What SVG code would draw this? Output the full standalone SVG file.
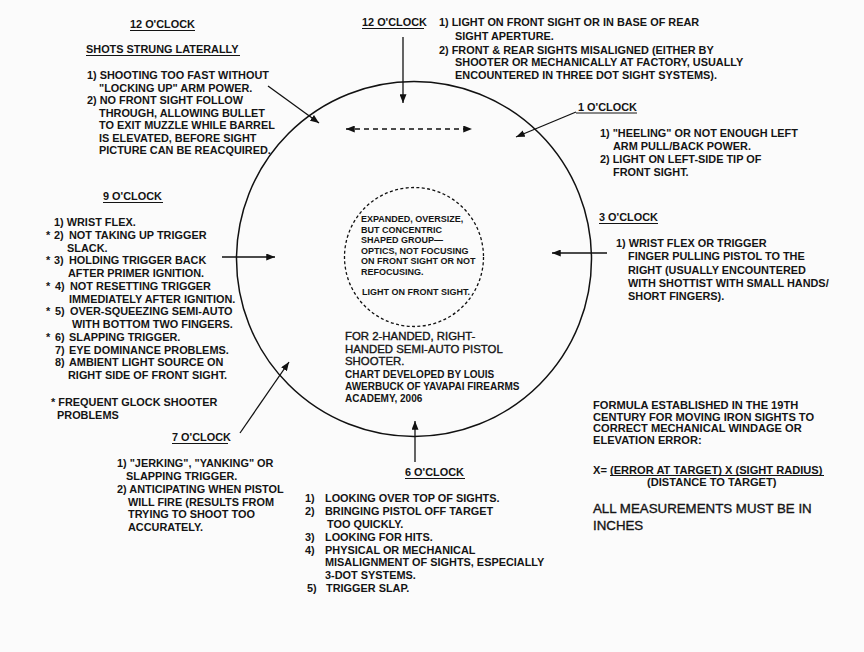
<svg xmlns="http://www.w3.org/2000/svg" width="864" height="652" viewBox="0 0 864 652">
<defs>
<marker id="ah" viewBox="0 0 10 8" refX="10" refY="4" markerWidth="9" markerHeight="7" markerUnits="userSpaceOnUse" orient="auto-start-reverse">
<path d="M0,0 L10,4 L0,8 Z" fill="#111"/>
</marker>
<style>
text{font-family:"Liberation Sans",Arial,sans-serif;fill:#141414;}
.b{font-weight:bold;font-size:10.9px;}
.r{font-size:11.4px;stroke:#141414;stroke-width:0.35;}
.s{font-weight:bold;font-size:9px;}
.c{font-weight:bold;font-size:10px;}
.big{font-size:13.3px;stroke:#141414;stroke-width:0.35;}
.f{font-weight:bold;font-size:11.1px;}
.ul{stroke:#141414;stroke-width:1;}
.con{stroke:#111;stroke-width:1.3;fill:none;marker-end:url(#ah);}
</style>
</defs>
<rect width="864" height="652" fill="#fbfbfb"/>

<g id="target">
<circle cx="414" cy="259" r="177.5" fill="none" stroke="#111" stroke-width="1.5"/>
</g>

<g id="center">
<circle cx="414" cy="257" r="69.5" fill="none" stroke="#111" stroke-width="1.3" stroke-dasharray="3 2.4"/>
<text class="s" x="361" y="222">EXPANDED, OVERSIZE,</text>
<text class="s" x="361" y="232.5">BUT CONCENTRIC</text>
<text class="s" x="361" y="243">SHAPED GROUP—</text>
<text class="s" x="361" y="253.5">OPTICS, NOT FOCUSING</text>
<text class="s" x="361" y="264">ON FRONT SIGHT OR NOT</text>
<text class="s" x="361" y="274.5">REFOCUSING.</text>
<text class="s" x="362" y="295">LIGHT ON FRONT SIGHT.</text>
<text class="r" x="345" y="340">FOR 2-HANDED, RIGHT-</text>
<text class="r" x="345" y="352.5">HANDED SEMI-AUTO PISTOL</text>
<text class="r" x="345" y="365">SHOOTER.</text>
<text class="c" x="345" y="377.5">CHART DEVELOPED BY LOUIS</text>
<text class="c" x="345" y="390">AWERBUCK OF YAVAPAI FIREARMS</text>
<text class="c" x="345" y="402">ACADEMY, 2006</text>
</g>

<g id="n12left">
<text class="b" x="130" y="28">12 O'CLOCK</text>
<line class="ul" x1="130" y1="30.5" x2="195" y2="30.5"/>
<text class="b" x="86" y="53">SHOTS STRUNG LATERALLY</text>
<line class="ul" x1="86" y1="55.5" x2="240" y2="55.5"/>
<text class="b" x="87" y="79">1) SHOOTING TOO FAST WITHOUT</text>
<text class="b" x="99" y="91.5">"LOCKING UP" ARM POWER.</text>
<text class="b" x="87" y="104">2) NO FRONT SIGHT FOLLOW</text>
<text class="b" x="99" y="116.5">THROUGH, ALLOWING BULLET</text>
<text class="b" x="99" y="129">TO EXIT MUZZLE WHILE BARREL</text>
<text class="b" x="99" y="141.5">IS ELEVATED, BEFORE SIGHT</text>
<text class="b" x="99" y="154">PICTURE CAN BE REACQUIRED.</text>
</g>

<g id="n12top">
<text class="b" x="362" y="26">12 O'CLOCK</text>
<line class="ul" x1="362" y1="28.5" x2="424" y2="28.5"/>
<text class="b" x="439" y="26">1) LIGHT ON FRONT SIGHT OR IN BASE OF REAR</text>
<text class="b" x="455" y="40">SIGHT APERTURE.</text>
<text class="b" x="439" y="53.5">2) FRONT &amp; REAR SIGHTS MISALIGNED (EITHER BY</text>
<text class="b" x="455" y="66">SHOOTER OR MECHANICALLY AT FACTORY, USUALLY</text>
<text class="b" x="455" y="78.5">ENCOUNTERED IN THREE DOT SIGHT SYSTEMS).</text>
</g>

<g id="n1">
<text class="b" x="578" y="111">1 O'CLOCK</text>
<line class="ul" x1="576" y1="113" x2="637" y2="113"/>
<text class="b" x="600" y="137">1) "HEELING" OR NOT ENOUGH LEFT</text>
<text class="b" x="613" y="150">ARM PULL/BACK POWER.</text>
<text class="b" x="600" y="163">2) LIGHT ON LEFT-SIDE TIP OF</text>
<text class="b" x="613" y="176">FRONT SIGHT.</text>
</g>

<g id="n9">
<text class="b" x="103" y="200">9 O'CLOCK</text>
<line class="ul" x1="103" y1="202.5" x2="163" y2="202.5"/>
<text class="b" x="54" y="226">1) WRIST FLEX.</text>
<text class="b" x="46" y="238.75">*</text>
<text class="b" x="54" y="238.75">2)</text>
<text class="b" x="69" y="238.75">NOT TAKING UP TRIGGER</text>
<text class="b" x="67" y="251.5">SLACK.</text>
<text class="b" x="46" y="264.25">*</text>
<text class="b" x="54" y="264.25">3)</text>
<text class="b" x="69" y="264.25">HOLDING TRIGGER BACK</text>
<text class="b" x="68" y="277">AFTER PRIMER IGNITION.</text>
<text class="b" x="46" y="289.75">*</text>
<text class="b" x="55" y="289.75">4)</text>
<text class="b" x="70" y="289.75">NOT RESETTING TRIGGER</text>
<text class="b" x="69" y="302.5">IMMEDIATELY AFTER IGNITION.</text>
<text class="b" x="46" y="315.25">*</text>
<text class="b" x="55" y="315.25">5)</text>
<text class="b" x="70" y="315.25">OVER-SQUEEZING SEMI-AUTO</text>
<text class="b" x="72" y="328">WITH BOTTOM TWO FINGERS.</text>
<text class="b" x="46" y="340.75">*</text>
<text class="b" x="55" y="340.75">6)</text>
<text class="b" x="69" y="340.75">SLAPPING TRIGGER.</text>
<text class="b" x="55" y="353.5">7)</text>
<text class="b" x="69" y="353.5">EYE DOMINANCE PROBLEMS.</text>
<text class="b" x="55" y="366.25">8)</text>
<text class="b" x="69" y="366.25">AMBIENT LIGHT SOURCE ON</text>
<text class="b" x="68" y="379">RIGHT SIDE OF FRONT SIGHT.</text>
<text class="b" x="51" y="406">* FREQUENT GLOCK SHOOTER</text>
<text class="b" x="57" y="418.5">PROBLEMS</text>
</g>

<g id="n3">
<text class="b" x="599" y="221">3 O'CLOCK</text>
<line class="ul" x1="599" y1="223.5" x2="658" y2="223.5"/>
<text class="b" x="616" y="247">1) WRIST FLEX OR TRIGGER</text>
<text class="b" x="628" y="260.3">FINGER PULLING PISTOL TO THE</text>
<text class="b" x="628" y="273.6">RIGHT (USUALLY ENCOUNTERED</text>
<text class="b" x="628" y="286.9">WITH SHOTTIST WITH SMALL HANDS/</text>
<text class="b" x="628" y="300.2">SHORT FINGERS).</text>
</g>

<g id="formula">
<text class="f" x="593" y="409">FORMULA ESTABLISHED IN THE 19TH</text>
<text class="f" x="593" y="420.7">CENTURY FOR MOVING IRON SIGHTS TO</text>
<text class="f" x="593" y="432.4">CORRECT MECHANICAL WINDAGE OR</text>
<text class="f" x="593" y="444.1">ELEVATION ERROR:</text>
<text class="f" x="593" y="473.5">X= (ERROR AT TARGET) X (SIGHT RADIUS)</text>
<line class="ul" x1="610" y1="475.5" x2="824" y2="475.5"/>
<text class="f" x="647" y="485.5">(DISTANCE TO TARGET)</text>
<text class="big" x="593" y="513">ALL MEASUREMENTS MUST BE IN</text>
<text class="big" x="593" y="530">INCHES</text>
</g>

<g id="n7">
<text class="b" x="172" y="441">7 O'CLOCK</text>
<line class="ul" x1="172" y1="443.5" x2="228" y2="443.5"/>
<text class="b" x="117" y="467">1) "JERKING", "YANKING" OR</text>
<text class="b" x="126" y="480">SLAPPING TRIGGER.</text>
<text class="b" x="117" y="493">2) ANTICIPATING WHEN PISTOL</text>
<text class="b" x="128" y="505.5">WILL FIRE (RESULTS FROM</text>
<text class="b" x="128" y="518">TRYING TO SHOOT TOO</text>
<text class="b" x="128" y="531">ACCURATELY.</text>
</g>

<g id="n6">
<text class="b" x="405" y="476">6 O'CLOCK</text>
<line class="ul" x1="405" y1="478.5" x2="465" y2="478.5"/>
<text class="b" x="305" y="502">1)</text>
<text class="b" x="325" y="502">LOOKING OVER TOP OF SIGHTS.</text>
<text class="b" x="305" y="515">2)</text>
<text class="b" x="325" y="515">BRINGING PISTOL OFF TARGET</text>
<text class="b" x="327" y="528">TOO QUICKLY.</text>
<text class="b" x="305" y="541">3)</text>
<text class="b" x="325" y="541">LOOKING FOR HITS.</text>
<text class="b" x="305" y="553.5">4)</text>
<text class="b" x="325" y="553.5">PHYSICAL OR MECHANICAL</text>
<text class="b" x="325" y="566">MISALIGNMENT OF SIGHTS, ESPECIALLY</text>
<text class="b" x="325" y="579">3-DOT SYSTEMS.</text>
<text class="b" x="307" y="592">5)</text>
<text class="b" x="326" y="592">TRIGGER SLAP.</text>
</g>

<g id="connectors">
<line class="con" x1="268" y1="86" x2="319" y2="123"/>
<line class="con" x1="403" y1="37" x2="403" y2="103"/>
<line class="con" x1="576" y1="112" x2="516" y2="137"/>
<line class="con" x1="222" y1="257" x2="275" y2="257"/>
<line class="con" x1="607" y1="253" x2="552" y2="253"/>
<line class="con" x1="240" y1="433" x2="289" y2="362"/>
<line class="con" x1="415" y1="462" x2="415" y2="421"/>
<line x1="346" y1="129" x2="472" y2="129" stroke="#111" stroke-width="1.5" stroke-dasharray="5 4" marker-start="url(#ah)" marker-end="url(#ah)"/>
</g>
</svg>
